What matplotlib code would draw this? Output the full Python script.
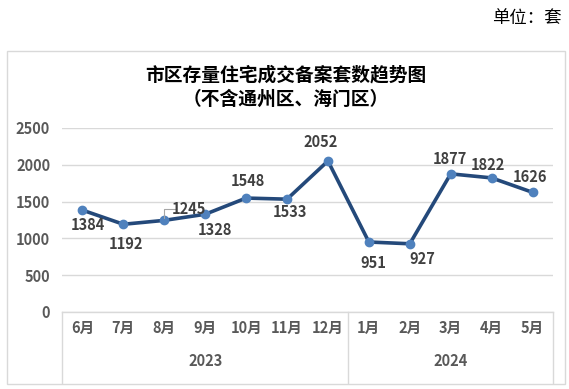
"""
市区存量住宅成交备案套数趋势图 (line chart with two-level month/year axis)
"""
import matplotlib
matplotlib.use('Agg')
import matplotlib.pyplot as plt
import matplotlib.transforms as mtransforms
from matplotlib.patches import Rectangle
from matplotlib.lines import Line2D

plt.rcParams['font.family'] = ['Noto Sans CJK SC', 'DejaVu Sans']

months = ['6月', '7月', '8月', '9月', '10月', '11月', '12月', '1月', '2月', '3月', '4月', '5月']
years = ['2023', '2024']
year_counts = [7, 5]
values = [1384, 1192, 1245, 1328, 1548, 1533, 2052, 951, 927, 1877, 1822, 1626]
yticks = [0, 500, 1000, 1500, 2000, 2500]

# label offsets from each point, in pixels
label_offsets = [(5, -15), (3, -20), (25, 11), (10, -16), (2, 17), (3, -13),
                 (-7, 19), (4, -21), (13, -15), (-1, 15), (-4, 13), (-3, 15)]

W, H = 569, 389
fig = plt.figure(figsize=(W / 100, H / 100), dpi=100)

# outer chart frame
fig.patches.append(Rectangle((7 / W, 1 - 384 / H), 558 / W, 333 / H,
                             transform=fig.transFigure, fill=False,
                             edgecolor='#D9D9D9', linewidth=1))

ax = fig.add_axes([62 / W, 1 - 312 / H, 491 / W, 184 / H])
x = list(range(len(months)))
ax.plot(x, values, color='#24497A', linewidth=2.6, marker='o',
        markersize=6, markerfacecolor='#4F81BD', markeredgecolor='#4F81BD',
        zorder=3)

ax.set_xlim(-0.5, len(months) - 0.5)
ax.set_ylim(0, 2500)
ax.set_yticks(yticks)
ax.set_yticklabels([str(t) for t in yticks], fontsize=10.5, fontweight='bold',
                   color='#595959')
ax.tick_params(axis='y', length=0, pad=8.5)
ax.set_xticks([])
ax.grid(axis='y', color='#D9D9D9', linewidth=1)
for s in ax.spines.values():
    s.set_visible(False)

for i, v in enumerate(values):
    dx, dy = label_offsets[i]
    ax.annotate(str(v), (i, v), xytext=(dx, dy), textcoords='offset pixels',
                ha='center', va='center', fontsize=10.5, fontweight='bold',
                color='#404040', zorder=4)

# leader line for 1245
ax.annotate('', (2, 1245), xytext=(14, 11), textcoords='offset pixels',
            arrowprops=dict(arrowstyle='-', color='#A6A6A6', lw=0.8,
                            connectionstyle='angle,angleA=0,angleB=90,rad=0'))

# two-level category axis
trans = mtransforms.blended_transform_factory(ax.transData, ax.transAxes)
ax.add_line(Line2D([-0.5, len(months) - 0.5], [0, 0], transform=trans,
                   color='#D9D9D9', linewidth=1, clip_on=False))
bottom = -71 / 184
for b in [-0.5, year_counts[0] - 0.5, len(months) - 0.5]:
    ax.add_line(Line2D([b, b], [0, bottom], transform=trans,
                       color='#D9D9D9', linewidth=1, clip_on=False))
for i, m in enumerate(months):
    ax.text(i, -16 / 184, m, transform=trans, ha='center', va='center',
            fontsize=10.5, fontweight='bold', color='#595959')
start = 0
for y, n in zip(years, year_counts):
    ax.text(start + (n - 1) / 2, -49 / 184, y, transform=trans, ha='center',
            va='center', fontsize=10.5, fontweight='bold', color='#595959')
    start += n

fig.text(286 / W, 1 - 75 / H, '市区存量住宅成交备案套数趋势图', ha='center',
         va='center', fontsize=13.5, fontweight='bold', color='#000000')
fig.text(286 / W, 1 - 99 / H, '（不含通州区、海门区）', ha='center',
         va='center', fontsize=13.5, fontweight='bold', color='#000000')
fig.text(562 / W, 1 - 18 / H, '单位：套', ha='right', va='center',
         fontsize=12.5, color='#000000')

fig.savefig('out.png', dpi=100)
